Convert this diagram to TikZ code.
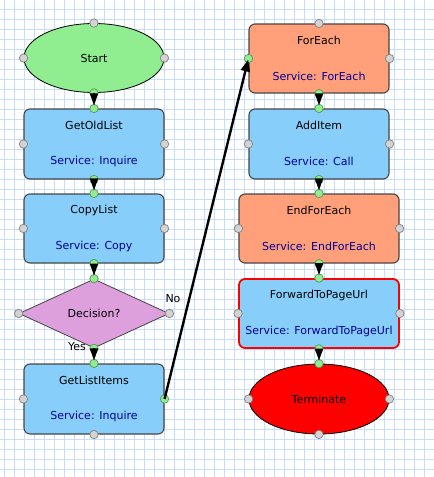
\documentclass[tikz,border=0pt]{standalone}
\usepackage{fontspec}
\setmainfont{DejaVu Sans}
\usetikzlibrary{shapes.geometric,arrows.meta}
\definecolor{gridc}{RGB}{200,222,248}
\definecolor{boxblue}{RGB}{135,206,250}
\definecolor{salmonc}{RGB}{255,160,122}
\definecolor{greenc}{RGB}{144,238,144}
\definecolor{plumc}{RGB}{221,160,221}
\definecolor{svc}{RGB}{0,0,150}
\definecolor{bordc}{RGB}{70,70,70}
\definecolor{portg}{RGB}{211,211,211}
\definecolor{portb}{RGB}{130,130,130}
\definecolor{portgb}{RGB}{90,150,90}
\tikzset{
  every node/.style={font=\fontsize{11}{13}\selectfont},
  stepbox/.style={rectangle, rounded corners=6pt, draw=bordc, line width=1.1pt, inner sep=0pt, minimum width=140pt, minimum height=70pt},
  blue box/.style={stepbox, fill=boxblue},
  salmon box/.style={stepbox, fill=salmonc},
  oval/.style={ellipse, draw=black, line width=0.8pt, inner sep=0pt, minimum width=140pt, minimum height=69pt},
  ttl/.style={inner sep=0pt, text=black},
  svcl/.style={inner sep=0pt, text=svc},
  gport/.style={fill=portg, draw=portb, line width=0.7pt},
  cport/.style={fill=greenc, draw=portgb, line width=0.7pt},
  arr/.style={line width=1.2pt, -{Triangle[width=8pt,length=12pt]}, shorten >=3pt},
  longarr/.style={line width=2.4pt, -{Triangle[width=9pt,length=12pt]}, shorten >=1pt},
}
\begin{document}
\begin{tikzpicture}[x=1pt,y=-1pt]
\fill[white] (0,0) rectangle (434,477);
\useasboundingbox (0,0) rectangle (434,477);
\foreach \x in {4,14,...,434} \draw[gridc, line width=0.8pt] (\x,0) -- (\x,477);
\foreach \y in {9,19,...,477} \draw[gridc, line width=0.8pt] (0,\y) -- (434,\y);

% left column
\node[oval, fill=greenc] (start) at (94,58) {Start};
\node[blue box] (b1) at (94,144) {};
\node[ttl] (b1t) at (94,125) {GetOldList};
\node[svcl] (b1s) at (94,161) {Service: Inquire};
\node[blue box, minimum height=69pt] (b2) at (94,228.5) {};
\node[ttl] (b2t) at (94,210) {CopyList};
\node[svcl] (b2s) at (94,246) {Service: Copy};
\node[diamond, aspect=2.17, fill=plumc, draw=bordc, line width=0.8pt, inner sep=0pt, minimum width=150pt, minimum height=69pt] (dec) at (94,313.5) {Decision?};
\node[ttl] (no) at (173,299) {No};
\node[ttl] (yes) at (77,347) {Yes};
\node[blue box] (b3) at (94,399) {};
\node[ttl] (b3t) at (94,380) {GetListItems};
\node[svcl] (b3s) at (94,416) {Service: Inquire};

% right column
\node[salmon box, minimum height=69pt] (fe) at (319,58.5) {};
\node[ttl] (fet) at (319,40) {ForEach};
\node[svcl] (fes) at (319,76) {Service: ForEach};
\node[blue box] (ai) at (319,144) {};
\node[ttl] (ait) at (319,125) {AddItem};
\node[svcl] (ais) at (319,161) {Service: Call};
\node[salmon box, minimum width=160pt, minimum height=69pt] (efe) at (319,228.5) {};
\node[ttl] (efet) at (319,210) {EndForEach};
\node[svcl] (efes) at (319,246) {Service: EndForEach};
\node[blue box, draw=red, line width=1.8pt, minimum width=160pt, minimum height=69pt] (fw) at (319,313.5) {};
\node[ttl] (fwt) at (319,295) {ForwardToPageUrl};
\node[svcl] (fws) at (319,331) {Service: ForwardToPageUrl};
\node[oval, fill=red, minimum height=70pt] (term) at (319,399) {Terminate};

% ports
\foreach \p in {start.north,start.west,start.east,b1.west,b1.east,b2.west,b2.east,dec.west,dec.east,b3.west,b3.south,fe.north,fe.east,ai.west,ai.east,efe.west,efe.east,fw.west,fw.east,term.west,term.east,term.south}
  \draw[gport] (\p) circle (4.2pt);
\foreach \p in {start.south,b1.north,b1.south,b2.north,b2.south,dec.north,dec.south,b3.north,b3.east,fe.west,fe.south,ai.north,ai.south,efe.north,efe.south,fw.north,fw.south,term.north}
  \draw[cport] (\p) circle (4.2pt);

% connectors
\draw[arr] (start.south) -- (b1.north);
\draw[arr] (b1.south) -- (b2.north);
\draw[arr] (b2.south) -- (dec.north);
\draw[arr] (dec.south) -- (b3.north);
\draw[longarr] (b3.east) -- (fe.west);
\draw[arr] (fe.south) -- (ai.north);
\draw[arr] (ai.south) -- (efe.north);
\draw[arr] (efe.south) -- (fw.north);
\draw[arr] (fw.south) -- (term.north);
\end{tikzpicture}
\end{document}
